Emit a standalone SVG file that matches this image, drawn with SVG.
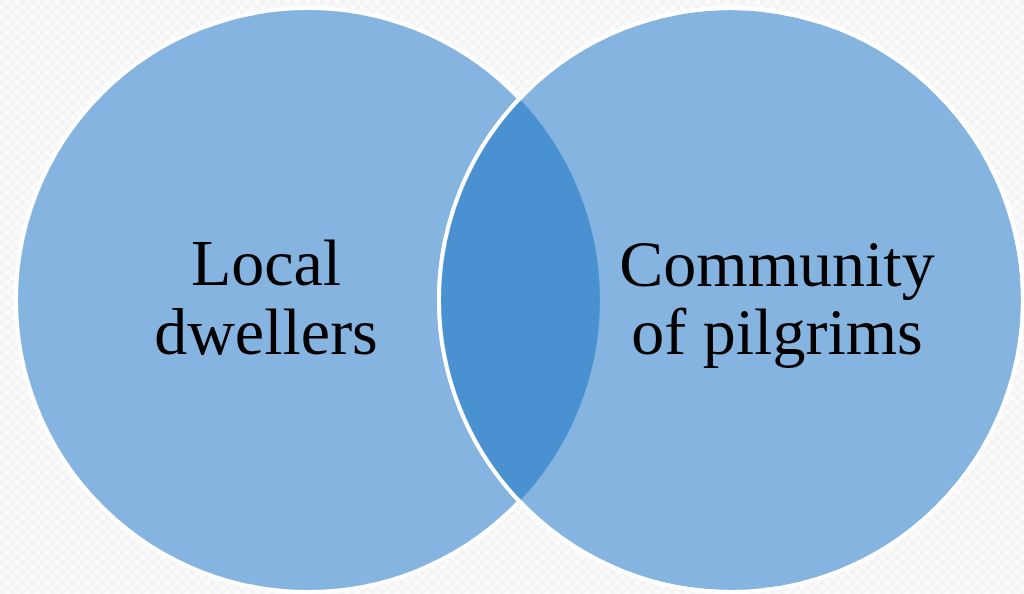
<svg xmlns="http://www.w3.org/2000/svg" width="1024" height="594" viewBox="0 0 1024 594">
  <defs>
    <pattern id="checker" width="10" height="10" patternUnits="userSpaceOnUse">
      <rect width="10" height="10" fill="#fbfbfb"/>
      <rect width="5" height="5" fill="#f4f4f4"/>
      <rect x="5" y="5" width="5" height="5" fill="#f4f4f4"/>
    </pattern>
    <clipPath id="clip-left">
      <circle cx="308" cy="300" r="292"/>
    </clipPath>
    <style>
      .set { fill: #85b4e0; stroke: #ffffff; stroke-width: 4; }
      .overlap { fill: #4a91d2; stroke: none; }
      .edge { fill: none; stroke: #ffffff; stroke-width: 4; }
      .label { font-family: "Liberation Serif", "DejaVu Serif", serif; font-size: 66px; fill: #000000; text-anchor: middle; }
    </style>
  </defs>

  <!-- background -->
  <rect width="1024" height="594" fill="url(#checker)"/>

  <!-- left set -->
  <g id="node-local-dwellers">
    <circle class="set" cx="308" cy="300" r="292"/>
  </g>

  <!-- right set -->
  <g id="node-community-of-pilgrims">
    <circle class="set" cx="731" cy="300" r="292"/>
  </g>

  <!-- overlap of the two sets -->
  <g id="node-overlap">
    <circle class="overlap" cx="731" cy="300" r="292" clip-path="url(#clip-left)"/>
    <circle class="edge" cx="731" cy="300" r="292"/>
  </g>

  <!-- labels -->
  <g id="labels">
    <text class="label" x="266" y="285">Local</text>
    <text class="label" x="266" y="354">dwellers</text>
    <text class="label" x="777" y="286">Community</text>
    <text class="label" x="777" y="354">of pilgrims</text>
  </g>
</svg>
